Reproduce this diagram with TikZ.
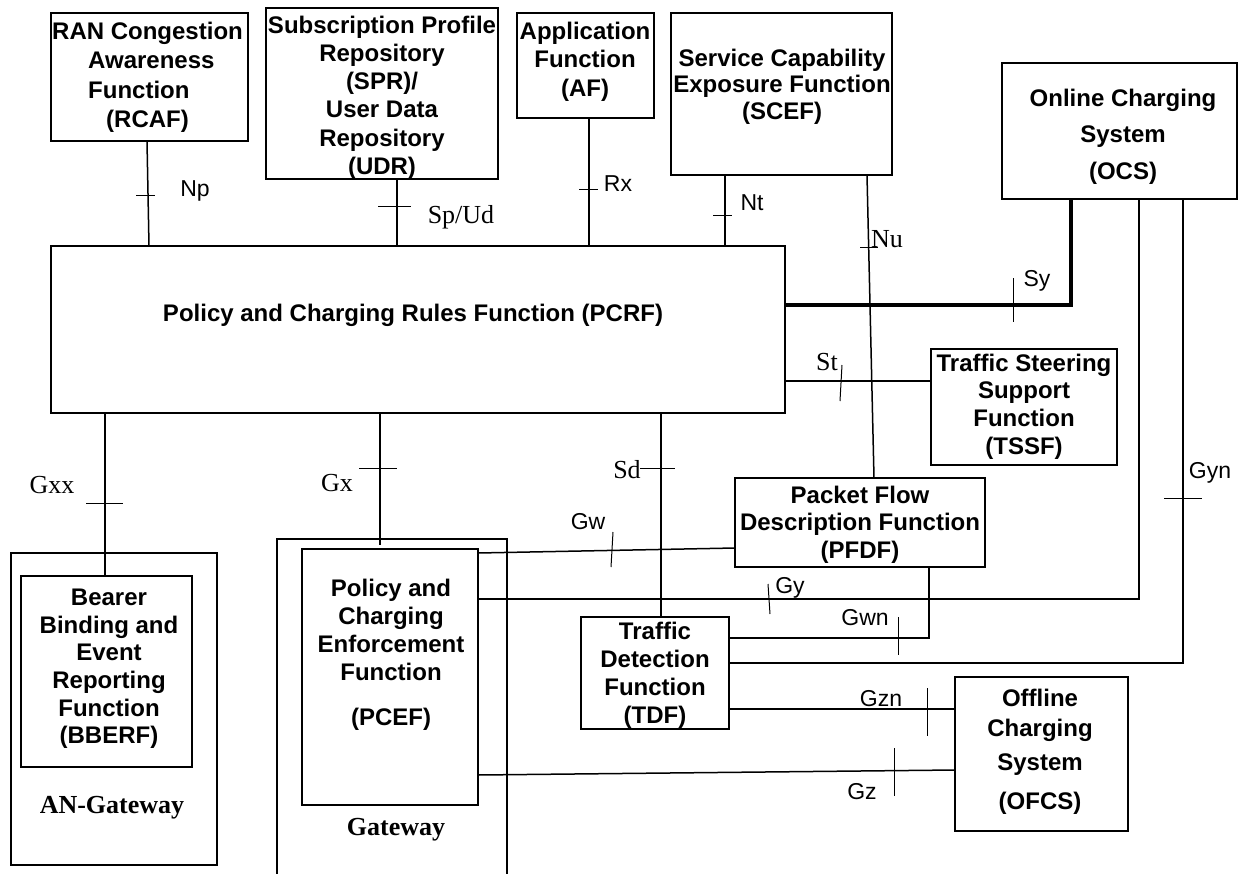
\documentclass[tikz,border=0pt]{standalone}
\usepackage{fontspec}
\setmainfont{Liberation Serif}
\setsansfont{Liberation Sans}
\begin{document}
\tikzset{
  box/.style={draw, line width=1.4pt, inner sep=0pt, outer sep=0pt},
  lbl/.style={font=\sffamily\bfseries\fontsize{24}{28}\selectfont, align=center, inner sep=0pt},
  conn/.style={line width=1.5pt},
  thickconn/.style={line width=3.2pt},
  tick/.style={line width=1pt},
  asans/.style={font=\sffamily\fontsize{23}{27}\selectfont, inner sep=0pt},
  aserif/.style={font=\rmfamily\fontsize{26}{30}\selectfont, inner sep=0pt},
  gwlabel/.style={font=\rmfamily\bfseries\fontsize{26}{30}\selectfont, inner sep=0pt}
}
\begin{tikzpicture}[x=1pt,y=-1pt]
\useasboundingbox (0,0) rectangle (1239,873);
\clip (0,0) rectangle (1239,873);

% boxes
\node[box, minimum width=197pt, minimum height=128pt] (rcaf) at (149.5,77) {};
\node[box, minimum width=232pt, minimum height=171pt] (spr) at (382,93.5) {};
\node[box, minimum width=137pt, minimum height=105pt] (af) at (585.5,65.5) {};
\node[box, minimum width=221pt, minimum height=162pt] (scef) at (781.5,94) {};
\node[box, minimum width=235pt, minimum height=136pt] (ocs) at (1119.5,131) {};
\node[box, minimum width=734pt, minimum height=167pt] (pcrf) at (418,329.5) {};
\node[box, minimum width=186pt, minimum height=116pt] (tssf) at (1024,407) {};
\node[box, minimum width=250pt, minimum height=89pt] (pfdf) at (860,522.5) {};
\node[box, minimum width=148pt, minimum height=112pt] (tdf) at (655,673) {};
\node[box, minimum width=173pt, minimum height=154pt] (ofcs) at (1041.5,754) {};
\node[box, minimum width=206pt, minimum height=312pt] (angw) at (114,709) {};
\node[box, minimum width=171pt, minimum height=191pt] (bberf) at (106.5,671.5) {};
\node[box, minimum width=230pt, minimum height=351pt] (gw) at (392,714.5) {};
\node[box, minimum width=176pt, minimum height=256pt] (pcef) at (390,677) {};

% box texts
\node[lbl, align=left, anchor=west, font=\sffamily\bfseries\fontsize{24}{29.5}\selectfont] (rcaf-t) at (52,77.5)
  {RAN Congestion\\\hspace*{36pt}Awareness\\\hspace*{36pt}Function\\\hspace*{54pt}(RCAF)};
\node[lbl, font=\sffamily\bfseries\fontsize{24}{28.2}\selectfont] (spr-t) at (382,97.5)
  {Subscription Profile\\Repository\\(SPR)/\\User Data\\Repository\\(UDR)};
\node[lbl, font=\sffamily\bfseries\fontsize{24}{28.5}\selectfont] (af-t) at (585,61.5)
  {Application\\Function\\(AF)};
\node[lbl, font=\sffamily\bfseries\fontsize{24}{26.5}\selectfont] (scef-t) at (782,86.5)
  {Service Capability\\Exposure Function\\(SCEF)};
\node[lbl, font=\sffamily\bfseries\fontsize{24}{36.5}\selectfont] (ocs-t) at (1123,136.5)
  {Online Charging\\System\\(OCS)};
\node[lbl] (pcrf-t) at (413,315) {Policy and Charging Rules Function (PCRF)};
\node[lbl, font=\sffamily\bfseries\fontsize{24}{27.7}\selectfont] (tssf-t) at (1024,406.5)
  {Traffic Steering\\Support\\Function\\(TSSF)};
\node[lbl, font=\sffamily\bfseries\fontsize{24}{27.5}\selectfont] (pfdf-t) at (860,524.5)
  {Packet Flow\\Description Function\\(PFDF)};
\node[lbl] (tdf-t) at (655,675)
  {Traffic\\Detection\\Function\\(TDF)};
\node[lbl, font=\sffamily\bfseries\fontsize{24}{29}\selectfont] (ofcs-t) at (1040,751.5)
  {Offline\\[1pt]Charging\\[5pt]System\\[10pt](OFCS)};
\node[lbl, font=\sffamily\bfseries\fontsize{24}{27.6}\selectfont] (bberf-t) at (109,669)
  {Bearer\\Binding and\\Event\\Reporting\\Function\\(BBERF)};
\node[lbl] (pcef-t) at (391,654.5)
  {Policy and\\Charging\\Enforcement\\Function\\[17pt](PCEF)};
\node[gwlabel] (angw-t) at (112,808) {AN-Gateway};
\node[gwlabel] (gw-t) at (396,830) {Gateway};

% connectors
\draw[conn] ([xshift=96pt]rcaf.south west) -- ([xshift=98pt]pcrf.north west);
\draw[conn] ([xshift=131pt]spr.south west) -- ([xshift=346pt]pcrf.north west);
\draw[conn] ([xshift=72pt]af.south west) -- ([xshift=538pt]pcrf.north west);
\draw[conn] ([xshift=54pt]scef.south west) -- ([xshift=674pt]pcrf.north west);
\draw[conn] ([xshift=196pt]scef.south west) -- ([xshift=139pt]pfdf.north west);
\draw[thickconn] ([xshift=69pt]ocs.south west) |- ([yshift=-59pt]pcrf.north east);
\draw[conn] ([yshift=-135pt]pcrf.north east) -- ([yshift=-32pt]tssf.north west);
\draw[conn] ([xshift=610pt]pcrf.south west) -- ([xshift=80pt]tdf.north west);
\draw[conn] ([xshift=54pt]pcrf.south west) -- ([xshift=84pt]bberf.north west);
\draw[conn] ([xshift=329pt]pcrf.south west) -- ([xshift=103pt,yshift=-6pt]gw.north west);
\draw[conn] ([yshift=-4pt]pcef.north east) -- ([yshift=-70pt]pfdf.north west);
\draw[conn] ([yshift=-50pt]pcef.north east) -| ([xshift=137pt]ocs.south west);
\draw[conn] ([xshift=194pt]pfdf.south west) |- ([yshift=-21pt]tdf.north east);
\draw[conn] ([xshift=181pt]ocs.south west) |- ([yshift=-46pt]tdf.north east);
\draw[conn] ([yshift=-92pt]tdf.north east) -- ([yshift=-32pt]ofcs.north west);
\draw[conn] ([yshift=-226pt]pcef.north east) -- ([yshift=-93pt]ofcs.north west);

% ticks
\draw[tick] (136,195) -- (155,195);
\draw[tick] (378,206) -- (411,206);
\draw[tick] (579,189) -- (598,189);
\draw[tick] (713,215) -- (732,215);
\draw[tick] (860,247) -- (878,247);
\draw[tick] (1013,278) -- (1013,322);
\draw[tick] (842,365) -- (840,401);
\draw[tick] (640,468) -- (675,468);
\draw[tick] (86,503) -- (123,503);
\draw[tick] (359,468) -- (397,468);
\draw[tick] (613,532) -- (611,567);
\draw[tick] (768,584) -- (770,614);
\draw[tick] (898,617) -- (898,655);
\draw[tick] (1164,498) -- (1202,498);
\draw[tick] (927,688) -- (927,736);
\draw[tick] (894,748) -- (894,796);

% interface labels
\node[asans] (np) at (195,191) {Np};
\node[aserif] (spud) at (461,217) {Sp/Ud};
\node[asans] (rx) at (618,184) {Rx};
\node[asans] (nt) at (752,203) {Nt};
\node[aserif] (nu) at (887,239) {Nu};
\node[asans] (sy) at (1037,281) {Sy};
\node[aserif] (st) at (827,362) {St};
\node[aserif] (sd) at (627,470) {Sd};
\node[aserif] (gxx) at (52,485) {Gxx};
\node[aserif] (gx) at (337,483) {Gx};
\node[asans] (gwl) at (588,522) {Gw};
\node[asans] (gy) at (790,588) {Gy};
\node[asans] (gwn) at (865,618) {Gwn};
\node[asans] (gyn) at (1210,473) {Gyn};
\node[asans] (gzn) at (881,699) {Gzn};
\node[asans] (gz) at (862,792) {Gz};
\end{tikzpicture}
\end{document}
